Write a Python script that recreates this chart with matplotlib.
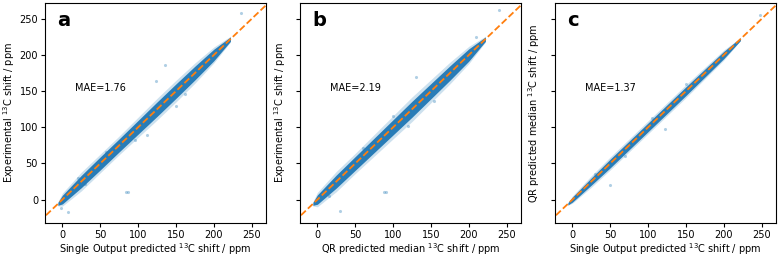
import numpy as np
import matplotlib.pyplot as plt

# band of the dense point cloud (y offset from the diagonal)
band_x = [-6, 0, 25, 50, 75, 100, 125, 150, 175, 200, 222]

outer_a = [3, 9, 13, 13, 13, 14, 15, 15, 14, 11, 4]
inner_a = [2, 6, 8.5, 9, 9, 9.5, 10, 10, 9.5, 8, 3]

outer_b = [3, 10, 14, 14, 15, 16, 17, 16, 15, 12, 4]
inner_b = [2, 6.5, 9, 9.5, 10, 10.5, 11, 10.5, 10, 8.5, 3]

outer_c = [2, 5, 8, 9, 9, 9, 9, 9, 8, 7, 2]
inner_c = [1.5, 3.5, 5, 6, 6, 6, 6, 6, 5.5, 5, 2]

# scattered outliers
out_ax = [84, 87, 8, -2, 136, 124, 30, 236, 150, 162, 112, 58, 96, 20]
out_ay = [10, 10, -17, -11, 186, 164, 22, 258, 130, 146, 90, 66, 83, 30]

out_bx = [88, 90, 30, 130, 100, 154, 240, 210, 60, 120, 15]
out_by = [11, 11, -16, 170, 115, 137, 262, 225, 72, 102, 5]

out_cx = [50, 122, 70, 248, 150, 105, 30]
out_cy = [20, 98, 60, 255, 160, 113, 36]

mae = ["MAE=1.76", "MAE=2.19", "MAE=1.37"]
letters = ["a", "b", "c"]
xlabels = ["Single Output predicted $^{13}$C shift / ppm",
           "QR predicted median $^{13}$C shift / ppm",
           "Single Output predicted $^{13}$C shift / ppm"]
ylabels = ["Experimental $^{13}$C shift / ppm",
           "Experimental $^{13}$C shift / ppm",
           "QR predicted median $^{13}$C shift / ppm"]


def main():
    plt.rcParams['font.size'] = 7
    fig = plt.figure(figsize=(7.79, 2.57), dpi=100)
    W, H = 779, 257
    boxes = [(45, 266), (300, 521), (555, 776)]
    bands = [(outer_a, inner_a), (outer_b, inner_b), (outer_c, inner_c)]
    outs = [(out_ax, out_ay), (out_bx, out_by), (out_cx, out_cy)]
    bx = np.array(band_x, dtype=float)
    blue = '#1f77b4'
    for i in range(3):
        l, r = boxes[i]
        ax = fig.add_axes([l / W, (H - 222.7) / H, (r - l) / W, 219.7 / H])
        outer, inner = bands[i]
        outer = np.array(outer)
        inner = np.array(inner)
        ax.fill_between(bx, bx - outer, bx + outer, color=blue, alpha=0.22, lw=0)
        ax.fill_between(bx, bx - inner, bx + inner, color=blue, alpha=0.95, lw=0)
        ox, oy = outs[i]
        ax.scatter(ox, oy, s=5, color=blue, alpha=0.35, lw=0)
        ax.plot([-40, 300], [-40, 300], '--', color='#ff7f0e', lw=1.3)
        ax.set_xlim(-23, 269)
        ax.set_ylim(-32, 272)
        ax.set_xticks([0, 50, 100, 150, 200, 250])
        ax.set_yticks([0, 50, 100, 150, 200, 250])
        ax.tick_params(length=3, pad=2)
        ax.set_xlabel(xlabels[i], labelpad=1)
        if i == 0:
            ax.set_ylabel(ylabels[i], labelpad=2)
        else:
            ax.set_yticklabels([])
            ax.set_ylabel(ylabels[i], labelpad=4)
        ax.text(16, 154, mae[i], fontsize=7, va='center')
        ax.text(0.055, 0.965, letters[i], transform=ax.transAxes,
                fontsize=14, fontweight='bold', va='top')
    fig.savefig("out.png", dpi=100)
    return 0


if __name__ == '__main__':
    main()
